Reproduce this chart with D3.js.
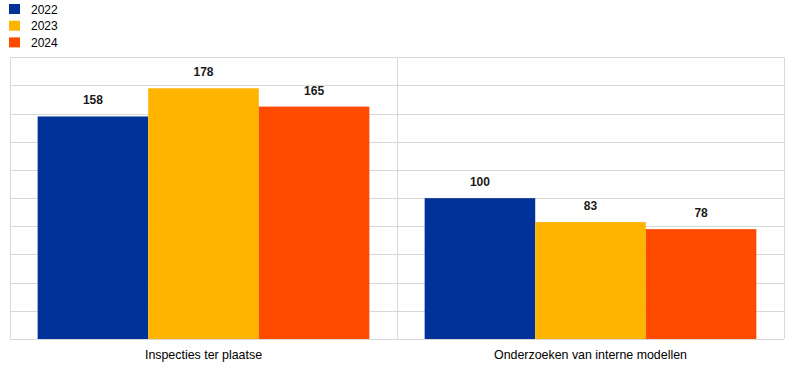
<!DOCTYPE html>
<html><head><meta charset="utf-8">
<script src="https://cdn.jsdelivr.net/npm/d3@7"></script>
<style>body{margin:0;background:#fff}svg{display:block;font-family:"Liberation Sans",Arial,sans-serif}</style>
</head><body>
<svg id="c" width="786" height="366"></svg>
<script>
const categories = ["Inspecties ter plaatse", "Onderzoeken van interne modellen"];
const years = ["2022", "2023", "2024"];
const v2022 = [158, 100];
const v2023 = [178, 83];
const v2024 = [165, 78];
const colors = ["#003299", "#FFB400", "#FF4B00"];
const yTicks = [0,20,40,60,80,100,120,140,160,180,200];

const series = [v2022, v2023, v2024];
const svg = d3.select("#c");
const L = 10, R = 784, T = 57.3, B = 339;

const x0 = d3.scaleBand().domain(categories).range([L, R]).paddingInner(0).paddingOuter(0);
const x1 = d3.scaleBand().domain(years).range([0, x0.bandwidth()]).paddingOuter(0.25).paddingInner(0);
const y = d3.scaleLinear().domain([0, 200]).range([B, T]);

// gridlines
svg.append("g").selectAll("line").data(yTicks).join("line")
  .attr("x1", L).attr("x2", R).attr("y1", d => Math.round(y(d)) + 0.5).attr("y2", d => Math.round(y(d)) + 0.5)
  .attr("stroke", "#d9d9d9").attr("stroke-width", 1);
// vertical lines
const vx = [L, x0(categories[1]), R];
svg.append("g").selectAll("line").data(vx).join("line")
  .attr("x1", d => Math.round(d) + 0.5).attr("x2", d => Math.round(d) + 0.5)
  .attr("y1", y(200)).attr("y2", B)
  .attr("stroke", "#d9d9d9").attr("stroke-width", 1);

// bars
const g = svg.append("g");
categories.forEach((c, ci) => {
  years.forEach((yr, si) => {
    const val = series[si][ci];
    const bx = x0(c) + x1(yr);
    g.append("rect").attr("x", bx).attr("width", x1.bandwidth())
      .attr("y", y(val)).attr("height", y(0) - y(val)).attr("fill", colors[si]);
    g.append("text").attr("x", bx + x1.bandwidth() / 2).attr("y", y(val) - 12)
      .attr("text-anchor", "middle").attr("font-size", 12).attr("font-weight", "bold")
      .attr("fill", "#1a1a1a").text(val);
  });
});

// x axis labels
svg.append("g").selectAll("text").data(categories).join("text")
  .attr("x", d => x0(d) + x0.bandwidth() / 2).attr("y", 359)
  .attr("text-anchor", "middle").attr("font-size", 12.4).attr("fill", "#000").text(d => d);

// legend
const lg = svg.append("g");
years.forEach((yr, i) => {
  lg.append("rect").attr("x", 9).attr("y", 4 + i * 16.7).attr("width", 11).attr("height", 10).attr("fill", colors[i]);
  lg.append("text").attr("x", 31).attr("y", 13.5 + i * 16.7).attr("font-size", 12).attr("fill", "#000").text(yr);
});
</script>
</body></html>
